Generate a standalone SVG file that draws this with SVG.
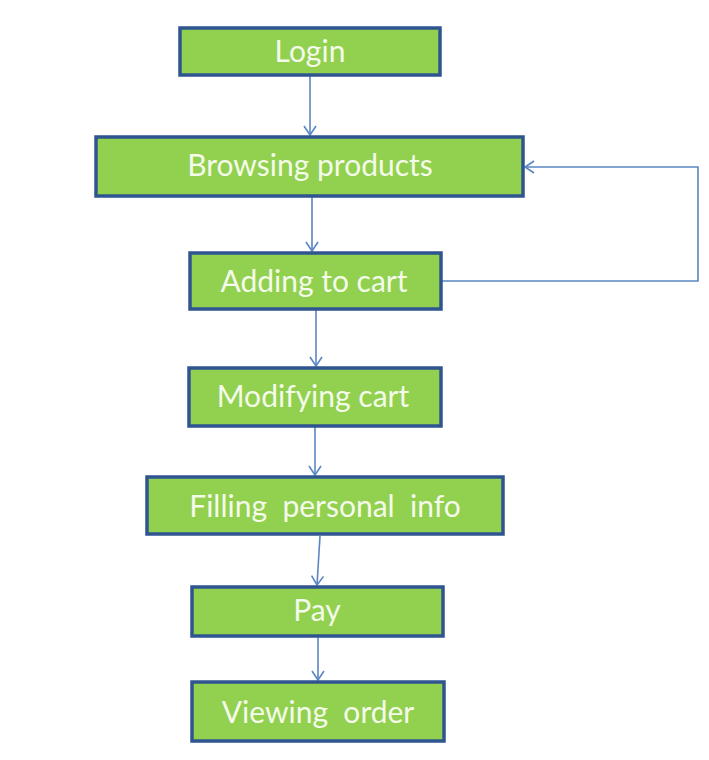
<svg xmlns="http://www.w3.org/2000/svg" width="709" height="760" viewBox="0 0 709 760">
<style>
.box{fill:#92D050;stroke:#2F5590;stroke-width:3.5}
.lbl{font-family:Lato,"Open Sans","Liberation Sans",sans-serif;font-size:30px;fill:#F4FBEA;text-anchor:middle;dominant-baseline:central;white-space:pre}
.con{fill:none;stroke:#5A86C5;stroke-width:1.6}
</style>
<defs>
<marker id="arr" markerWidth="14" markerHeight="14" refX="11" refY="7" orient="auto" markerUnits="userSpaceOnUse">
<path d="M2,1 L11,7 L2,13" fill="none" stroke="#5A86C5" stroke-width="1.6"/>
</marker>
</defs>
<rect width="709" height="760" fill="#FFFFFF"/>
<g id="connectors">
<line class="con" x1="310" y1="76" x2="310" y2="135" marker-end="url(#arr)"/>
<line class="con" x1="312" y1="197" x2="312" y2="251" marker-end="url(#arr)"/>
<polyline class="con" points="442,281 698,281 698,167 525,167" marker-end="url(#arr)"/>
<line class="con" x1="316" y1="310" x2="316" y2="366" marker-end="url(#arr)"/>
<line class="con" x1="315" y1="427" x2="315" y2="475" marker-end="url(#arr)"/>
<line class="con" x1="320" y1="536" x2="317" y2="585" marker-end="url(#arr)"/>
<line class="con" x1="318" y1="637" x2="318" y2="680" marker-end="url(#arr)"/>
</g>
<g id="login"><rect class="box" x="180" y="28" width="260" height="47"/><text class="lbl" x="310" y="50">Login</text></g>
<g id="browsing"><rect class="box" x="96" y="137" width="427" height="59"/><text class="lbl" x="310" y="164">Browsing products</text></g>
<g id="adding"><rect class="box" x="190" y="253" width="251" height="56"/><text class="lbl" x="314" y="280">Adding to cart</text></g>
<g id="modifying"><rect class="box" x="189" y="368" width="252" height="58"/><text class="lbl" x="313" y="395">Modifying cart</text></g>
<g id="filling"><rect class="box" x="147" y="477" width="356" height="57"/><text class="lbl" x="325" y="505" xml:space="preserve">Filling  personal  info</text></g>
<g id="pay"><rect class="box" x="192" y="587" width="251" height="49"/><text class="lbl" x="317" y="609">Pay</text></g>
<g id="viewing"><rect class="box" x="192" y="682" width="252" height="59"/><text class="lbl" x="318" y="711" xml:space="preserve">Viewing  order</text></g>
</svg>
